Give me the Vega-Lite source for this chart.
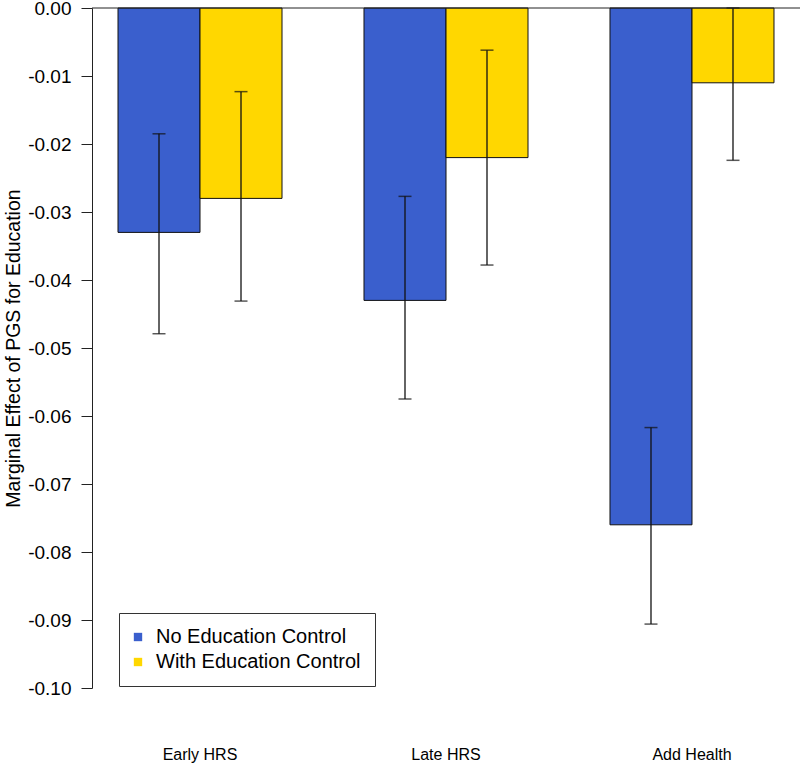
{
  "$schema": "https://vega.github.io/schema/vega-lite/v6.json",
  "autosize": {"type": "none"},
  "width": 708,
  "height": 680,
  "padding": {"left": 92, "top": 8, "right": 0, "bottom": 78},
  "background": "white",
  "config": {
    "font": "Liberation Sans",
    "view": {"stroke": null}
  },
  "data": {
    "values": [
      {"study": "Early HRS", "model": "No Education Control", "effect": -0.033, "lo": -0.0479, "hi": -0.0185},
      {"study": "Early HRS", "model": "With Education Control", "effect": -0.028, "lo": -0.0431, "hi": -0.0123},
      {"study": "Late HRS", "model": "No Education Control", "effect": -0.043, "lo": -0.0575, "hi": -0.0277},
      {"study": "Late HRS", "model": "With Education Control", "effect": -0.022, "lo": -0.0378, "hi": -0.0062},
      {"study": "Add Health", "model": "No Education Control", "effect": -0.076, "lo": -0.0906, "hi": -0.0617},
      {"study": "Add Health", "model": "With Education Control", "effect": -0.011, "lo": -0.0224, "hi": 0.0}
    ]
  },
  "encoding": {
    "x": {
      "field": "study",
      "type": "nominal",
      "sort": ["Early HRS", "Late HRS", "Add Health"],
      "scale": {"paddingInner": 0.3333, "paddingOuter": 0.1057},
      "axis": {
        "title": null,
        "domain": false,
        "ticks": false,
        "tickSize": 0,
        "labelPadding": 58,
        "labelAngle": 0,
        "labelFontSize": 16,
        "labelColor": "#000"
      }
    },
    "xOffset": {
      "field": "model",
      "type": "nominal",
      "sort": ["No Education Control", "With Education Control"],
      "scale": {"paddingInner": 0, "paddingOuter": 0}
    }
  },
  "layer": [
    {
      "mark": {"type": "bar", "stroke": "#111", "strokeWidth": 1},
      "encoding": {
        "y": {
          "field": "effect",
          "type": "quantitative",
          "scale": {"domain": [-0.1, 0], "nice": false, "zero": false},
          "axis": {
            "title": "Marginal Effect of PGS for Education",
            "titleFontSize": 19.5,
            "titleFontWeight": "normal",
            "titleColor": "#000",
            "titlePadding": 4,
            "values": [0, -0.01, -0.02, -0.03, -0.04, -0.05, -0.06, -0.07, -0.08, -0.09, -0.1],
            "labelExpr": "replace(format(datum.value, '.2f'), '\u2212', '-')",
            "labelFontSize": 19,
            "labelColor": "#000",
            "labelPadding": 10,
            "tickSize": 11,
            "tickColor": "#222",
            "domainColor": "#222",
            "grid": false
          }
        },
        "y2": {"datum": 0},
        "color": {
          "field": "model",
          "type": "nominal",
          "scale": {"domain": ["No Education Control", "With Education Control"], "range": ["#3A5FCD", "#FFD700"]},
          "legend": {
            "title": null,
            "orient": "none",
            "legendX": 27,
            "legendY": 605,
            "direction": "vertical",
            "symbolType": "square",
            "symbolSize": 70,
            "symbolStrokeWidth": 0,
            "symbolOffset": -5,
            "labelFontSize": 20,
            "labelLimit": 400,
            "labelColor": "#000",
            "labelOffset": 8,
            "rowPadding": 5,
            "padding": 14,
            "fillColor": "white",
            "strokeColor": "#333",
            "encode": {"legend": {"update": {"strokeWidth": {"value": 1.5}}}}
          }
        }
      }
    },
    {
      "mark": {"type": "rule", "color": "#111", "strokeWidth": 1.3},
      "encoding": {
        "y": {"field": "lo", "type": "quantitative"},
        "y2": {"field": "hi"}
      }
    },
    {
      "mark": {"type": "tick", "color": "#111", "size": 13, "thickness": 1.5},
      "encoding": {
        "y": {"field": "lo", "type": "quantitative"}
      }
    },
    {
      "mark": {"type": "tick", "color": "#111", "size": 13, "thickness": 1.5},
      "encoding": {
        "y": {"field": "hi", "type": "quantitative"}
      }
    },
    {
      "data": {"values": [{"zero": 0}]},
      "mark": {"type": "rule", "color": "#222", "strokeWidth": 1},
      "encoding": {
        "y": {"field": "zero", "type": "quantitative"},
        "x": null,
        "xOffset": null
      }
    }
  ]
}
